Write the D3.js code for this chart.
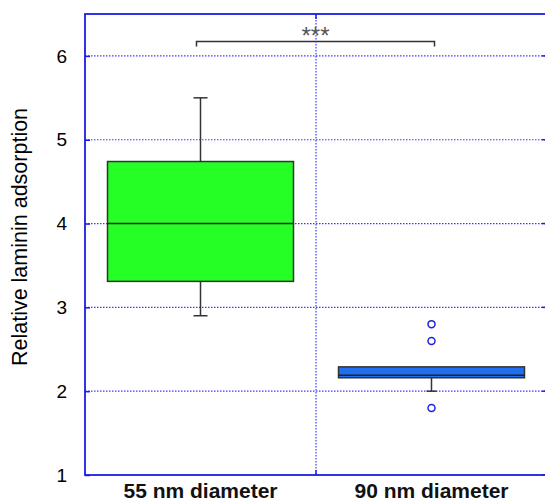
<!DOCTYPE html>
<html>
<head>
<meta charset="utf-8">
<script src="https://cdn.jsdelivr.net/npm/d3@7"></script>
<style>
  body { margin: 0; background: #fff; }
  svg { display: block; font-family: "Liberation Sans", Arial, sans-serif; }
</style>
</head>
<body>
<svg></svg>
<script>
// box plot of relative laminin adsorption, two groups

const width = 545,
      height = 502;

// data
const groups = ['55 nm diameter', '90 nm diameter'];
const boxLow = [3.31, 2.16];
const boxMedian = [4.0, 2.19];
const boxHigh = [4.74, 2.29];
const whiskerLow = [2.9, 2.0];
const whiskerHigh = [5.5, 2.29];
const outliers = [[], [2.8, 2.6, 1.8]];
const boxColors = ['#26ff26', '#1f6ff0'];
const yTicks = [1, 2, 3, 4, 5, 6];

const svg = d3.select('svg')
              .attr('width', width)
              .attr('height', height);

const margin = {left: 85, right: -2, top: 14, bottom: 27};

const xscale = d3.scaleBand()
                 .domain(groups)
                 .range([margin.left, width - margin.right])
                 .paddingInner(0)
                 .paddingOuter(0);

const yscale = d3.scaleLinear()
                 .domain([1, 6.5])
                 .range([height - margin.bottom, margin.top]);

const axisBlue = '#1c1ce6';
const gridBlue = '#3a3aff';

// dotted grid lines
svg.append('g').selectAll('line')
   .data(yTicks.slice(1))
   .enter().append('line')
   .attr('x1', margin.left)
   .attr('x2', width - margin.right)
   .attr('y1', d => yscale(d))
   .attr('y2', d => yscale(d))
   .attr('stroke', gridBlue)
   .attr('stroke-width', 1.2)
   .attr('stroke-dasharray', '1.5,1.5');

// vertical divider between the groups
const mid = xscale(groups[1]);
svg.append('line')
   .attr('x1', mid).attr('x2', mid)
   .attr('y1', margin.top).attr('y2', height - margin.bottom)
   .attr('stroke', gridBlue)
   .attr('stroke-width', 1.2)
   .attr('stroke-dasharray', '1.5,1.5');

// axes (ticks point inward)
const y_axis = d3.axisLeft(yscale)
                 .tickValues(yTicks)
                 .tickSize(-5)
                 .tickPadding(18)
                 .tickFormat(d3.format('d'));

const gy = svg.append('g')
   .attr('transform', 'translate(' + margin.left + ',0)')
   .call(y_axis);
gy.select('.domain').remove();
gy.selectAll('line').attr('stroke', axisBlue).attr('stroke-width', 1.5);
gy.selectAll('text').attr('font-size', '19px').attr('fill', '#000');

// right side inward ticks
svg.append('g').selectAll('line')
   .data(yTicks)
   .enter().append('line')
   .attr('x1', width - margin.right)
   .attr('x2', width - margin.right - 5)
   .attr('y1', d => yscale(d))
   .attr('y2', d => yscale(d))
   .attr('stroke', axisBlue)
   .attr('stroke-width', 1.5);

// frame
svg.append('rect')
   .attr('x', margin.left)
   .attr('y', margin.top)
   .attr('width', width - margin.right - margin.left)
   .attr('height', height - margin.bottom - margin.top)
   .attr('fill', 'none')
   .attr('stroke', axisBlue)
   .attr('stroke-width', 1.8);

// tick at the divider on top and bottom
svg.append('line')
   .attr('x1', mid).attr('x2', mid)
   .attr('y1', margin.top).attr('y2', margin.top + 5)
   .attr('stroke', axisBlue).attr('stroke-width', 1.5);
svg.append('line')
   .attr('x1', mid).attr('x2', mid)
   .attr('y1', height - margin.bottom).attr('y2', height - margin.bottom - 5)
   .attr('stroke', axisBlue).attr('stroke-width', 1.5);

// x labels
svg.append('g').selectAll('text')
   .data(groups)
   .enter().append('text')
   .attr('x', d => xscale(d) + xscale.bandwidth() / 2)
   .attr('y', 498)
   .attr('text-anchor', 'middle')
   .attr('font-size', '21px')
   .attr('font-weight', 'bold')
   .attr('fill', '#111')
   .text(d => d);

// y label
svg.append('text')
   .attr('transform', 'rotate(270)')
   .attr('x', -237)
   .attr('y', 27)
   .attr('text-anchor', 'middle')
   .attr('font-size', '21.5px')
   .attr('fill', '#000')
   .text('Relative laminin adsorption');

// boxes
const boxWidth = 186;
const capWidth = [14, 10];
const boxes = svg.append('g');

groups.forEach(function(g, i) {
  const cx = xscale(g) + xscale.bandwidth() / 2;

  // whiskers
  boxes.append('line')
       .attr('x1', cx).attr('x2', cx)
       .attr('y1', yscale(boxHigh[i])).attr('y2', yscale(whiskerHigh[i]))
       .attr('stroke', '#333').attr('stroke-width', 1.5);
  boxes.append('line')
       .attr('x1', cx).attr('x2', cx)
       .attr('y1', yscale(boxLow[i])).attr('y2', yscale(whiskerLow[i]))
       .attr('stroke', '#333').attr('stroke-width', 1.5);
  if (whiskerHigh[i] > boxHigh[i]) {
    boxes.append('line')
         .attr('x1', cx - capWidth[i] / 2).attr('x2', cx + capWidth[i] / 2)
         .attr('y1', yscale(whiskerHigh[i])).attr('y2', yscale(whiskerHigh[i]))
         .attr('stroke', '#333').attr('stroke-width', 1.5);
  }
  boxes.append('line')
       .attr('x1', cx - capWidth[i] / 2).attr('x2', cx + capWidth[i] / 2)
       .attr('y1', yscale(whiskerLow[i])).attr('y2', yscale(whiskerLow[i]))
       .attr('stroke', '#333').attr('stroke-width', 1.5);

  // box
  boxes.append('rect')
       .attr('x', cx - boxWidth / 2)
       .attr('y', yscale(boxHigh[i]))
       .attr('width', boxWidth)
       .attr('height', yscale(boxLow[i]) - yscale(boxHigh[i]))
       .attr('fill', boxColors[i])
       .attr('stroke', '#333')
       .attr('stroke-width', 1.5);

  // median
  boxes.append('line')
       .attr('x1', cx - boxWidth / 2).attr('x2', cx + boxWidth / 2)
       .attr('y1', yscale(boxMedian[i])).attr('y2', yscale(boxMedian[i]))
       .attr('stroke', '#222').attr('stroke-width', 1.5);

  // outliers
  boxes.selectAll('.out' + i)
       .data(outliers[i])
       .enter().append('circle')
       .attr('class', 'out' + i)
       .attr('cx', cx)
       .attr('cy', d => yscale(d))
       .attr('r', 3.5)
       .attr('fill', '#fff')
       .attr('stroke', '#2020e0')
       .attr('stroke-width', 1.5);
});

// significance bracket
const bx1 = xscale(groups[0]) + xscale.bandwidth() / 2 - 4,
      bx2 = xscale(groups[1]) + xscale.bandwidth() / 2 + 3,
      by = 41.5;
svg.append('path')
   .attr('d', 'M' + bx1 + ',' + (by + 5) + 'V' + by + 'H' + bx2 + 'V' + (by + 5))
   .attr('fill', 'none')
   .attr('stroke', '#333')
   .attr('stroke-width', 1.5);
svg.append('text')
   .attr('x', (bx1 + bx2) / 2)
   .attr('y', 44)
   .attr('text-anchor', 'middle')
   .attr('font-size', '24px')
   .attr('fill', '#555')
   .text('***');
</script>
</body>
</html>
